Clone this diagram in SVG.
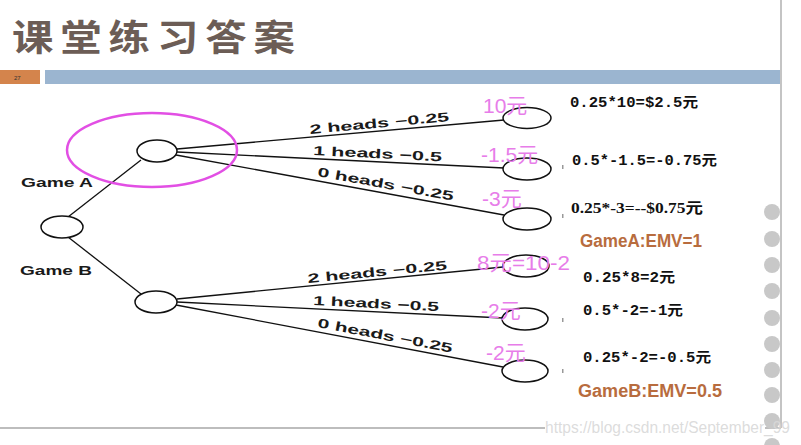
<svg xmlns="http://www.w3.org/2000/svg" width="801" height="445" viewBox="0 0 801 445">
<style>
.node{fill:#fff;stroke:#111;stroke-width:1.5}
.edge{stroke:#111;stroke-width:1.3;fill:none}
.lbl{font-family:"Liberation Sans",Arial,sans-serif;font-weight:bold;font-size:13px;fill:#1a1a1a}
.pink{font-family:"Liberation Sans",Arial,"Noto Sans CJK SC",sans-serif;font-size:21px;fill:#e77de9}
.calc{font-family:"Liberation Mono","Noto Sans CJK SC",monospace;font-weight:bold;font-size:14px;fill:#111}
.emv{font-family:"Liberation Sans Narrow","Liberation Sans","Noto Sans CJK SC",sans-serif;font-weight:bold;font-size:18px;fill:#b86c3e}
.dot{fill:#c8c8c8}
</style>
<rect width="801" height="445" fill="#fff"/>
<!-- header -->
<text transform="translate(12,0) scale(1.15,1)" x="0" y="51" font-family="'Noto Sans CJK SC',sans-serif" font-weight="bold" font-size="36" fill="#6c5d56" textLength="246" lengthAdjust="spacing">课堂练习答案</text>
<rect x="0" y="70" width="40" height="14" fill="#d4844c"/>
<text x="14" y="80" font-family="'Liberation Sans',sans-serif" font-size="6" fill="#333">27</text>
<rect x="45" y="70" width="737" height="14" fill="#9bb5d0"/>
<line x1="781" y1="0" x2="781" y2="428" stroke="#c4c4c4" stroke-width="2"/>
<line x1="0" y1="428" x2="545" y2="428" stroke="#bdbdbd" stroke-width="2"/>
<line x1="765" y1="428" x2="781" y2="428" stroke="#bdbdbd" stroke-width="2"/>
<g id="side-dots">
<circle class="dot" cx="772" cy="212" r="8"/>
<circle class="dot" cx="772" cy="239" r="8"/>
<circle class="dot" cx="772" cy="265" r="8"/>
<circle class="dot" cx="772" cy="291" r="8"/>
<circle class="dot" cx="772" cy="318" r="8"/>
<circle class="dot" cx="772" cy="344" r="8"/>
<circle class="dot" cx="772" cy="370" r="8"/>
<circle class="dot" cx="772" cy="395" r="8"/>
<circle class="dot" cx="772" cy="421" r="8"/>
<circle class="dot" cx="772" cy="446" r="8"/>
</g>
<!-- connectors -->
<g id="connectors">
<line class="edge" x1="68" y1="217" x2="141" y2="160"/>
<line class="edge" x1="68" y1="237" x2="141" y2="294"/>
<line class="edge" x1="177" y1="149" x2="504" y2="120"/>
<line class="edge" x1="177" y1="152" x2="504" y2="168"/>
<line class="edge" x1="176" y1="155" x2="504" y2="215"/>
<line class="edge" x1="177" y1="299" x2="503" y2="267"/>
<line class="edge" x1="177" y1="302" x2="503" y2="318"/>
<line class="edge" x1="176" y1="305" x2="503" y2="367"/>
<text class="lbl" x="310" y="134" transform="rotate(-5.3 310 134)" textLength="140" lengthAdjust="spacingAndGlyphs">2 heads −0.25</text>
<text class="lbl" x="313" y="155" transform="rotate(2.8 313 155)" textLength="129" lengthAdjust="spacingAndGlyphs">1 heads −0.5</text>
<text class="lbl" x="317" y="176" transform="rotate(10.3 317 176)" textLength="138" lengthAdjust="spacingAndGlyphs">0 heads −0.25</text>
<text class="lbl" x="308" y="283" transform="rotate(-5.5 308 283)" textLength="140" lengthAdjust="spacingAndGlyphs">2 heads −0.25</text>
<text class="lbl" x="313" y="305" transform="rotate(2.8 313 305)" textLength="126" lengthAdjust="spacingAndGlyphs">1 heads −0.5</text>
<text class="lbl" x="317" y="327" transform="rotate(10.8 317 327)" textLength="137" lengthAdjust="spacingAndGlyphs">0 heads −0.25</text>
<text class="lbl" x="21" y="187" textLength="72" lengthAdjust="spacingAndGlyphs">Game A</text>
<text class="lbl" x="20" y="275" textLength="72" lengthAdjust="spacingAndGlyphs">Game B</text>
</g>
<!-- nodes -->
<g id="root"><ellipse class="node" cx="62" cy="227" rx="21" ry="11"/></g>
<g id="gameA"><ellipse class="node" cx="157" cy="151" rx="20" ry="11"/></g>
<g id="gameB"><ellipse class="node" cx="156" cy="302" rx="21" ry="11"/></g>
<g id="a1"><ellipse class="node" cx="527" cy="118" rx="24" ry="10.5"/></g>
<g id="a2"><ellipse class="node" cx="527" cy="169" rx="24" ry="11"/></g>
<g id="a3"><ellipse class="node" cx="527" cy="219" rx="24" ry="11"/></g>
<g id="b1"><ellipse class="node" cx="526" cy="266" rx="23" ry="11"/></g>
<g id="b2"><ellipse class="node" cx="525" cy="319" rx="23" ry="11"/></g>
<g id="b3"><ellipse class="node" cx="525" cy="371" rx="23" ry="11"/></g>
<!-- highlight -->
<ellipse cx="152" cy="150" rx="85" ry="37" fill="none" stroke="#e24fe4" stroke-width="2.5"/>
<!-- pink payoffs -->
<g id="payoffs">
<text class="pink" x="483" y="113">10元</text>
<text class="pink" x="481" y="162">-1.5元</text>
<text class="pink" x="482" y="206">-3元</text>
<text class="pink" x="477" y="270" textLength="93" lengthAdjust="spacingAndGlyphs">8元=10-2</text>
<text class="pink" x="481" y="318">-2元</text>
<text class="pink" x="486" y="360">-2元</text>
</g>
<!-- calculations -->
<g id="calcs">
<text class="calc" x="570" y="107" textLength="128" lengthAdjust="spacingAndGlyphs">0.25*10=$2.5元</text>
<text class="calc" x="572" y="165" textLength="145" lengthAdjust="spacingAndGlyphs">0.5*-1.5=-0.75元</text>
<text x="571" y="213" font-family="'Liberation Serif','Noto Sans CJK SC',serif" font-weight="bold" font-size="15" fill="#111" textLength="132" lengthAdjust="spacingAndGlyphs">0.25*-3=--$0.75元</text>
<text class="emv" x="580" y="247" textLength="122" lengthAdjust="spacingAndGlyphs">GameA:EMV=1</text>
<text class="calc" x="583" y="282" textLength="92" lengthAdjust="spacingAndGlyphs">0.25*8=2元</text>
<text class="calc" x="583" y="315" textLength="100" lengthAdjust="spacingAndGlyphs">0.5*-2=-1元</text>
<text class="calc" x="583" y="362" textLength="128" lengthAdjust="spacingAndGlyphs">0.25*-2=-0.5元</text>
<text class="emv" x="578" y="397" textLength="144" lengthAdjust="spacingAndGlyphs">GameB:EMV=0.5</text>
</g>
<g fill="#999">
<rect x="562" y="165" width="1.5" height="4"/>
<rect x="562" y="214" width="1.5" height="4"/>
<rect x="562" y="318" width="1.5" height="4"/>
<rect x="562" y="369" width="1.5" height="4"/>
</g>
<text x="545" y="433" font-family="'Liberation Sans',sans-serif" font-size="16" fill="#d8d8d8" fill-opacity="0.9" textLength="245" lengthAdjust="spacingAndGlyphs">https://blog.csdn.net/September_99</text>
</svg>
